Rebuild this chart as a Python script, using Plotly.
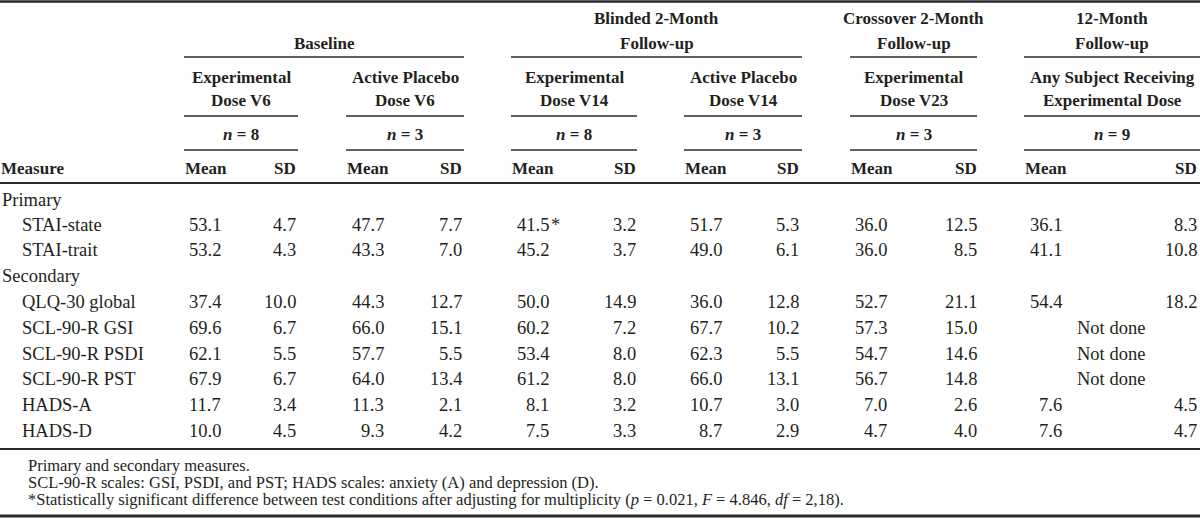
import plotly.graph_objects as go

# ---------------- data ----------------
measures = ["STAI-state", "STAI-trait", "QLQ-30 global", "SCL-90-R GSI",
            "SCL-90-R PSDI", "SCL-90-R PST", "HADS-A", "HADS-D"]
measure_group = ["Primary", "Primary", "Secondary", "Secondary",
                 "Secondary", "Secondary", "Secondary", "Secondary"]

periods = ["Baseline", "Blinded 2-Month<br>Follow-up",
           "Crossover 2-Month<br>Follow-up", "12-Month<br>Follow-up"]
conditions = ["Experimental<br>Dose V6", "Active Placebo<br>Dose V6",
              "Experimental<br>Dose V14", "Active Placebo<br>Dose V14",
              "Experimental<br>Dose V23",
              "Any Subject Receiving<br>Experimental Dose"]
condition_period = [0, 0, 1, 1, 2, 3]
n_subjects = [8, 3, 8, 3, 3, 9]

base_exp_mean = [53.1, 53.2, 37.4, 69.6, 62.1, 67.9, 11.7, 10.0]
base_exp_sd = [4.7, 4.3, 10.0, 6.7, 5.5, 6.7, 3.4, 4.5]
base_ap_mean = [47.7, 43.3, 44.3, 66.0, 57.7, 64.0, 11.3, 9.3]
base_ap_sd = [7.7, 7.0, 12.7, 15.1, 5.5, 13.4, 2.1, 4.2]
bl_exp_mean = [41.5, 45.2, 50.0, 60.2, 53.4, 61.2, 8.1, 7.5]
bl_exp_sd = [3.2, 3.7, 14.9, 7.2, 8.0, 8.0, 3.2, 3.3]
bl_ap_mean = [51.7, 49.0, 36.0, 67.7, 62.3, 66.0, 10.7, 8.7]
bl_ap_sd = [5.3, 6.1, 12.8, 10.2, 5.5, 13.1, 3.0, 2.9]
co_exp_mean = [36.0, 36.0, 52.7, 57.3, 54.7, 56.7, 7.0, 4.7]
co_exp_sd = [12.5, 8.5, 21.1, 15.0, 14.6, 14.8, 2.6, 4.0]
m12_mean = [36.1, 41.1, 54.4, None, None, None, 7.6, 7.6]
m12_sd = [8.3, 10.8, 18.2, None, None, None, 4.5, 4.7]
significant_bl_exp = [True, False, False, False, False, False, False, False]
not_done_label = "Not done"

means = [base_exp_mean, base_ap_mean, bl_exp_mean, bl_ap_mean, co_exp_mean, m12_mean]
sds = [base_exp_sd, base_ap_sd, bl_exp_sd, bl_ap_sd, co_exp_sd, m12_sd]

footnotes = [
    "Primary and secondary measures.",
    "SCL-90-R scales: GSI, PSDI, and PST; HADS scales: anxiety (A) and depression (D).",
    "*Statistically significant difference between test conditions after adjusting "
    "for multiplicity (<i>p</i> = 0.021, <i>F</i> = 4.846, <i>df</i> = 2,18).",
]

# ---------------- layout (pixel geometry) ----------------
W, H = 1200, 519
FONT = "Liberation Serif, Times New Roman, serif"
INK = "#231f20"
BODY = 18.5
HEAD = 17
FOOT = 16.5

sub_left = [184, 346, 511, 684, 850, 1024]
sub_right = [298, 464, 637, 802, 977, 1200]
mean_right = [222, 385, 550, 723, 888, 1063]
sd_right = [297, 463, 637, 800, 978, 1198]

y_period = [18, 43]
y_period_single = 43
y_line1 = 57
y_cond = [77, 100]
y_line2 = 116
y_n = 134
y_line3 = 150
y_meanhdr = 168
y_line4 = 183
y_primary = 200
y_rows = [225, 250, 302, 328, 354, 379, 405, 431]
y_secondary = 276
y_line5 = 449
y_foot = [465, 482, 499]
y_bottom = 516

ann = []
shapes = []


def text(x, y, s, anchor="left", size=BODY):
    ann.append(dict(x=x, y=y, xref="x", yref="y", text=s, showarrow=False,
                    xanchor=anchor, yanchor="middle",
                    font=dict(family=FONT, size=size, color=INK),
                    borderpad=0))


def hline(x0, x1, y, w):
    shapes.append(dict(type="line", xref="x", yref="y", x0=x0, x1=x1, y0=y, y1=y,
                       line=dict(color="#2b2b2b", width=w)))


# full-width rules
hline(0, W, 1.5, 2.5)
hline(0, W, y_line4, 2)
hline(0, W, y_line5, 2)
hline(0, W, y_bottom, 3)

# period headers
for p, label in enumerate(periods):
    subs = [i for i, cp in enumerate(condition_period) if cp == p]
    x0, x1 = sub_left[subs[0]], sub_right[subs[-1]]
    cx = (x0 + x1) / 2
    parts = label.split("<br>")
    ys = [y_period_single] if len(parts) == 1 else y_period
    for part, yy in zip(parts, ys):
        text(cx, yy, "<b>%s</b>" % part, "center", HEAD)
    hline(x0, x1, y_line1, 1.3)

# condition headers
for i, label in enumerate(conditions):
    cx = (sub_left[i] + sub_right[i]) / 2
    for part, yy in zip(label.split("<br>"), y_cond):
        text(cx, yy, "<b>%s</b>" % part, "center", HEAD)
    hline(sub_left[i], sub_right[i], y_line2, 1.3)
    text(cx, y_n, "<b><i>n</i> = %d</b>" % n_subjects[i], "center", HEAD)
    hline(sub_left[i], sub_right[i], y_line3, 1.3)
    text(sub_left[i], y_meanhdr, "<b>Mean</b>", "left", HEAD)
    text(sd_right[i], y_meanhdr, "<b>SD</b>", "right", HEAD)

text(0, y_meanhdr, "<b>Measure</b>", "left", HEAD)

# row labels
text(1, y_primary, "Primary", "left")
text(1, y_secondary, "Secondary", "left")
for r, m in enumerate(measures):
    text(21, y_rows[r], m, "left")

# body cells
for c in range(len(conditions)):
    for r in range(len(measures)):
        mv, sv = means[c][r], sds[c][r]
        if mv is None:
            cx = (sub_left[c] + sub_right[c]) / 2 - 1
            text(cx, y_rows[r], not_done_label, "center")
            continue
        text(mean_right[c], y_rows[r], "%.1f" % mv, "right")
        text(sd_right[c], y_rows[r], "%.1f" % sv, "right")
        if c == 2 and significant_bl_exp[r]:
            text(mean_right[c], y_rows[r], "*", "left")

# footnotes
for f, yy in zip(footnotes, y_foot):
    text(27, yy, f, "left", FOOT)

fig = go.Figure()
fig.add_trace(go.Scatter(x=[0, W], y=[0, H], mode="markers",
                         marker=dict(opacity=0), hoverinfo="skip", showlegend=False))
fig.update_layout(
    width=W, height=H, margin=dict(l=0, r=0, t=0, b=0),
    paper_bgcolor="white", plot_bgcolor="white",
    xaxis=dict(range=[0, W], visible=False, fixedrange=True),
    yaxis=dict(range=[H, 0], visible=False, fixedrange=True),
    annotations=ann, shapes=shapes, showlegend=False,
)
fig.write_html(
    "out.html",
    config={"displayModeBar": False, "staticPlot": True},
    post_script="document.body.style.margin='0';document.body.style.overflow='hidden';",
)
